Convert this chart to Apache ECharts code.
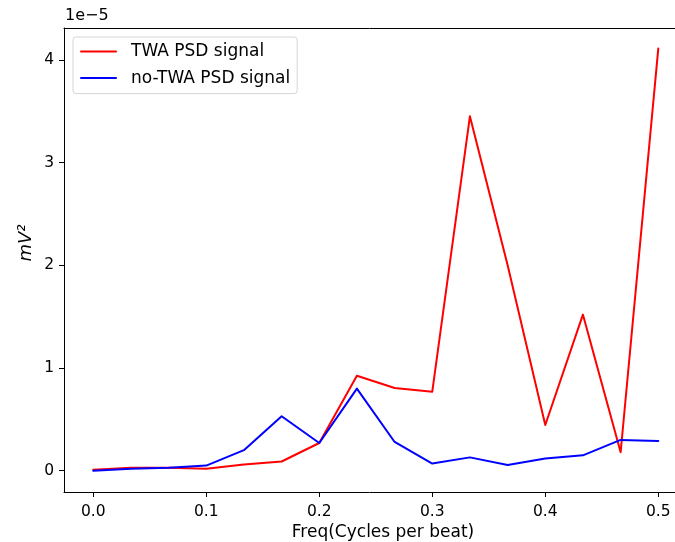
<!DOCTYPE html>
<html>
<head>
<meta charset="utf-8">
<title>PSD comparison</title>
<script src="https://cdn.jsdelivr.net/npm/echarts@6/dist/echarts.min.js"></script>
<style>
  html, body { margin: 0; padding: 0; background: #fff; }
  #chart { width: 675px; height: 542px; }
</style>
</head>
<body>
<div id="chart"></div>
<script>
// Frequency bins (cycles per beat)
const freq = [0, 0.0333, 0.0667, 0.1, 0.1333, 0.1667, 0.2, 0.2333, 0.2667, 0.3,
              0.3333, 0.3667, 0.4, 0.4333, 0.4667, 0.5];

// Power spectral density, mV^2
const twaPsd = [0.01e-5, 0.03e-5, 0.03e-5, 0.02e-5, 0.06e-5, 0.09e-5, 0.27e-5, 0.925e-5,
                0.805e-5, 0.77e-5, 3.45e-5, 2.00e-5, 0.445e-5, 1.52e-5, 0.18e-5, 4.11e-5];
const noTwaPsd = [0.00e-5, 0.02e-5, 0.03e-5, 0.05e-5, 0.20e-5, 0.53e-5, 0.27e-5, 0.80e-5,
                  0.28e-5, 0.07e-5, 0.13e-5, 0.055e-5, 0.12e-5, 0.15e-5, 0.30e-5, 0.29e-5];

const seriesNames = ['TWA PSD signal', 'no-TWA PSD signal'];
const xTicks = [0, 0.1, 0.2, 0.3, 0.4, 0.5];
const yTicks = [0, 1e-5, 2e-5, 3e-5, 4e-5];
const yScaleLabel = '1e\u22125';
const xTitle = 'Freq(Cycles per beat)';
const yTitle = 'mV\u00b2';

const font = 'DejaVu Sans';
const tickFont = 15.5;
const labelFont = 17;
const pair = (xs, ys) => xs.map((x, i) => [x, ys[i]]);

const chart = echarts.init(document.getElementById('chart'), null, { renderer: 'canvas' });

const spine = { show: true, onZero: false, lineStyle: { color: '#000', width: 1 } };

chart.setOption({
  animation: false,
  backgroundColor: '#fff',
  textStyle: { fontFamily: font },
  grid: { left: 64, top: 28, right: 0, bottom: 50, show: false },
  xAxis: [
    {
      type: 'value',
      min: -0.0259, max: 0.5148,
      splitLine: { show: false },
      axisLine: spine,
      axisTick: { show: true, length: 5, customValues: xTicks, lineStyle: { color: '#000' } },
      axisLabel: {
        customValues: xTicks, margin: 12, color: '#000', fontFamily: font, fontSize: tickFont,
        formatter: v => v.toFixed(1)
      }
    },
    {
      // top spine of the frame
      type: 'value', position: 'top',
      min: -0.0259, max: 0.5148,
      splitLine: { show: false },
      axisLine: spine,
      axisTick: { show: false },
      axisLabel: { show: false }
    }
  ],
  yAxis: {
    type: 'value',
    min: -0.207e-5, max: 4.31e-5,
    splitLine: { show: false },
    axisLine: spine,
    axisTick: { show: true, length: 5, customValues: yTicks, lineStyle: { color: '#000' } },
    axisLabel: {
      customValues: yTicks, margin: 10, color: '#000', fontFamily: font, fontSize: tickFont,
      formatter: v => String(Math.round(v * 1e5))
    }
  },
  legend: {
    orient: 'vertical',
    left: 73, top: 37,
    padding: [6, 7, 7, 7],
    itemWidth: 35, itemHeight: 14, itemGap: 9.6,
    itemStyle: { opacity: 0 },
    backgroundColor: 'rgba(255,255,255,0.8)',
    borderColor: '#d6d6d6', borderWidth: 1, borderRadius: 3,
    textStyle: {
      fontFamily: font, fontSize: labelFont, lineHeight: 17, color: '#000',
      padding: [0, 0, 0, 10]
    },
    data: seriesNames
  },
  series: [
    {
      name: seriesNames[0], type: 'line', data: pair(freq, twaPsd),
      symbol: 'none', color: '#ff0000',
      lineStyle: { color: '#ff0000', width: 2, join: 'round', cap: 'round' }
    },
    {
      name: seriesNames[1], type: 'line', data: pair(freq, noTwaPsd),
      symbol: 'none', color: '#0000ff',
      lineStyle: { color: '#0000ff', width: 2, join: 'round', cap: 'round' }
    }
  ],
  graphic: [
    {
      type: 'text', left: 65, top: 8,
      style: { text: yScaleLabel, fontFamily: font, fontSize: 16, fill: '#000' }
    },
    {
      type: 'text', x: 26, y: 243, rotation: Math.PI / 2,
      style: {
        text: yTitle, fontFamily: font, fontStyle: 'italic', fontSize: 18, fill: '#000',
        align: 'center', verticalAlign: 'middle'
      }
    },
    {
      type: 'text', x: 383, y: 533,
      style: {
        text: xTitle, fontFamily: font, fontSize: labelFont, fill: '#000',
        align: 'center', verticalAlign: 'middle'
      }
    }
  ]
});
</script>
</body>
</html>
